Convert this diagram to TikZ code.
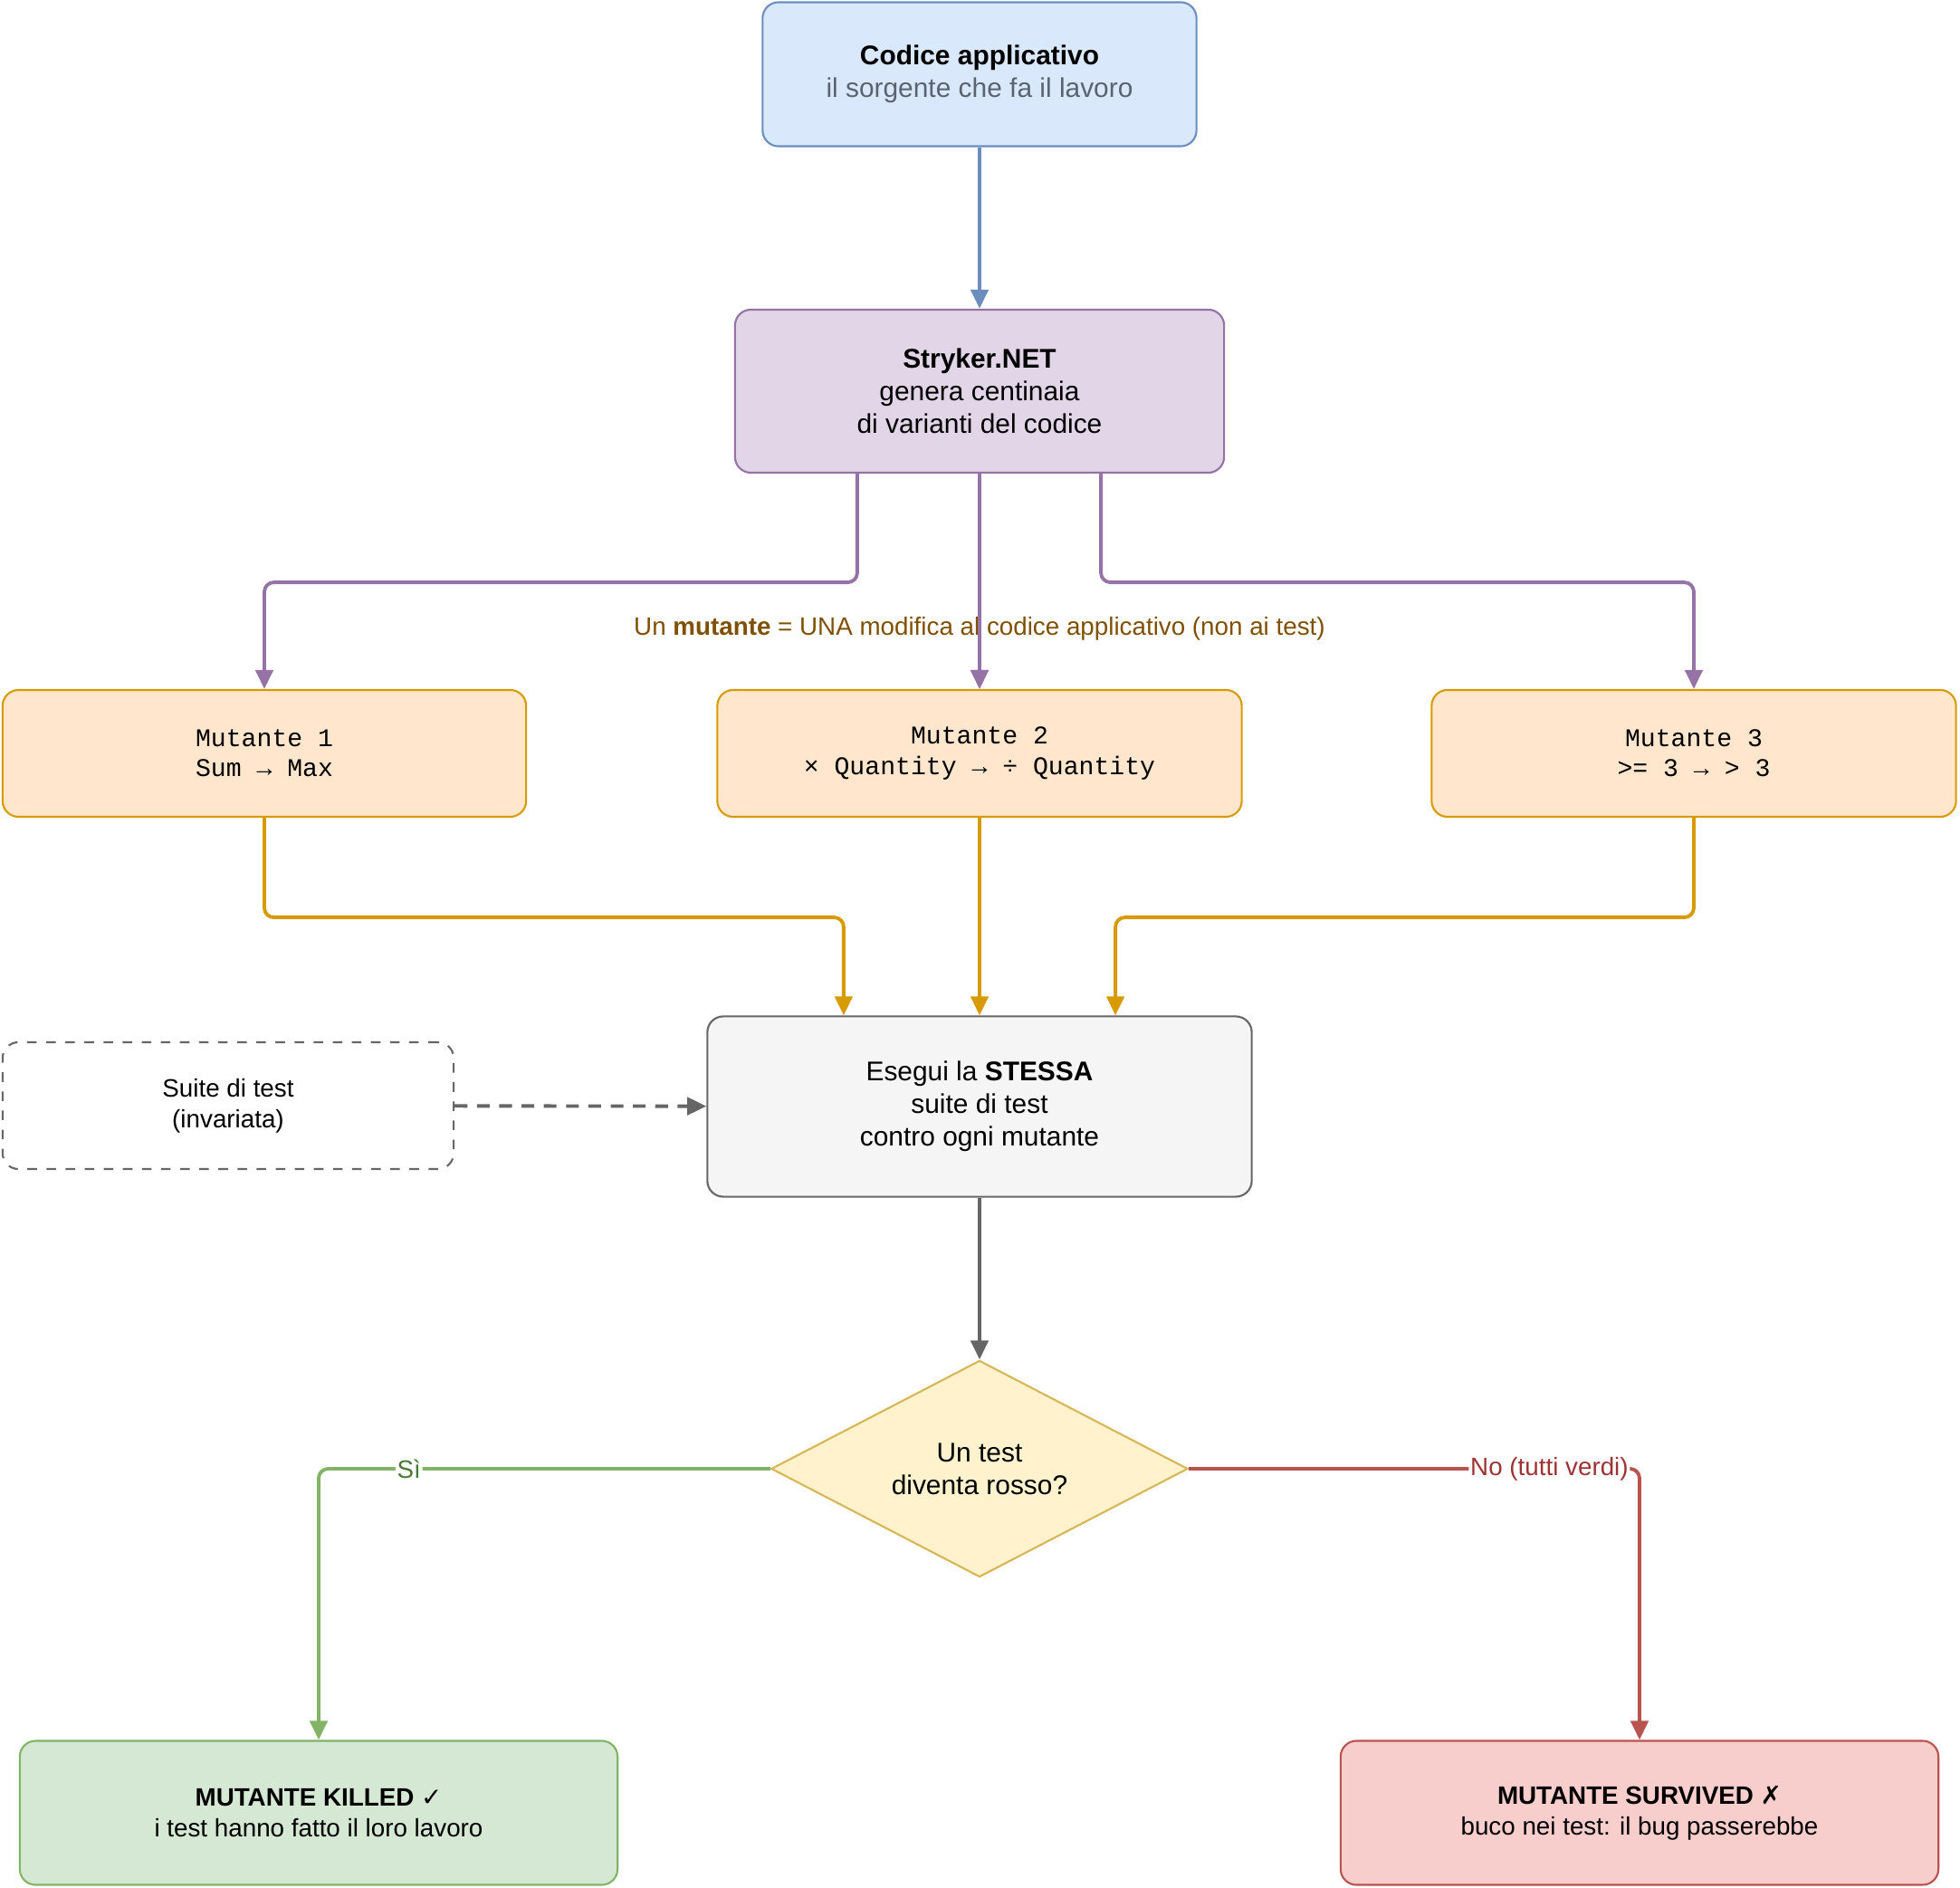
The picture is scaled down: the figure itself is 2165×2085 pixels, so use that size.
\documentclass[tikz,border=0pt]{standalone}
\usepackage{fontspec}
\setmainfont{Liberation Sans}
\setmonofont{Liberation Mono}
\newfontfamily\symfont{DejaVu Sans}
\usetikzlibrary{arrows.meta,shapes.geometric}
\definecolor{blueF}{HTML}{DAE8FC}\definecolor{blueD}{HTML}{6C8EBF}
\definecolor{purF}{HTML}{E1D5E7}\definecolor{purD}{HTML}{9673A6}
\definecolor{orF}{HTML}{FFE6CC}\definecolor{orD}{HTML}{D79B00}
\definecolor{grF}{HTML}{F5F5F5}\definecolor{grD}{HTML}{666666}
\definecolor{yeF}{HTML}{FFF2CC}\definecolor{yeD}{HTML}{D6B656}
\definecolor{gnF}{HTML}{D5E8D4}\definecolor{gnD}{HTML}{82B366}
\definecolor{rdF}{HTML}{F8CECC}\definecolor{rdD}{HTML}{B85450}
\definecolor{subG}{HTML}{5A6470}
\definecolor{brownT}{HTML}{7F5000}
\definecolor{greenT}{HTML}{4A7A38}
\definecolor{redT}{HTML}{9E3333}
\tikzset{
  box/.style={rectangle, rounded corners=5pt, line width=0.6pt, align=center, inner sep=2pt},
  bigtxt/.style={font=\fontsize{8.5}{10.2}\selectfont},
  smalltxt/.style={font=\fontsize{7.9}{9.6}\selectfont},
  monotxt/.style={font=\fontsize{8}{9.4}\selectfont\ttfamily},
  edge/.style={line width=1.1pt, rounded corners=3pt, -{Triangle[length=6pt,width=5.5pt]}},
  lbl/.style={fill=white, inner sep=0.5pt, font=\fontsize{7.9}{9.6}\selectfont}
}
\begin{document}
\begin{tikzpicture}[x=0.01cm,y=-0.01cm]
\useasboundingbox (0,0) rectangle (2165,2085);
\node[box, bigtxt, fill=blueF, draw=blueD, minimum width=4.79cm, minimum height=1.59cm] (code) at (1082,82)
  {\textbf{Codice applicativo}\\\textcolor{subG}{il sorgente che fa il lavoro}};
\node[box, bigtxt, fill=purF, draw=purD, minimum width=5.40cm, minimum height=1.80cm] (stry) at (1082,432)
  {\textbf{Stryker.NET}\\genera centinaia\\di varianti del codice};
\node[box, monotxt, fill=orF, draw=orD, minimum width=5.78cm, minimum height=1.40cm] (m1) at (292,832)
  {Mutante 1\\Sum → Max};
\node[box, monotxt, fill=orF, draw=orD, minimum width=5.79cm, minimum height=1.40cm] (m2) at (1082,832)
  {Mutante 2\\× Quantity → ÷ Quantity};
\node[box, monotxt, fill=orF, draw=orD, minimum width=5.79cm, minimum height=1.40cm] (m3) at (1871,832)
  {Mutante 3\\>= 3 → > 3};
\node[box, bigtxt, fill=grF, draw=grD, minimum width=6.01cm, minimum height=1.99cm] (exe) at (1082,1222)
  {Esegui la \textbf{STESSA}\\suite di test\\contro ogni mutante};
\node[box, smalltxt, draw=grD, dashed, minimum width=4.98cm, minimum height=1.40cm] (suite) at (252,1221)
  {Suite di test\\(invariata)};
\node[diamond, bigtxt, align=center, fill=yeF, draw=yeD, line width=0.6pt, inner sep=0pt, aspect=1.92,
  minimum width=4.60cm, minimum height=2.39cm] (dia) at (1082,1622)
  {Un test\\diventa rosso?};
\node[box, smalltxt, fill=gnF, draw=gnD, minimum width=6.60cm, minimum height=1.59cm] (kill) at (352,2002)
  {\textbf{MUTANTE KILLED {\symfont ✓}}\\i test hanno fatto il loro lavoro};
\node[box, smalltxt, fill=rdF, draw=rdD, minimum width=6.60cm, minimum height=1.59cm] (surv) at (1811,2002)
  {\textbf{MUTANTE SURVIVED {\symfont ✗}}\\buco nei test: il bug passerebbe};
% edges
\draw[edge, draw=blueD] (code) -- (stry);
\draw[edge, draw=purD] ([xshift=-1.35cm]stry.south) -- ++(0,120) -| (m1.north);
\draw[edge, draw=purD] (stry) -- (m2);
\draw[edge, draw=purD] ([xshift=1.34cm]stry.south) -- ++(0,120) -| (m3.north);
\node[font=\fontsize{7.9}{9.6}\selectfont, text=brownT] (note) at (1082,694)
  {Un \textbf{mutante} = UNA modifica al codice applicativo (non ai test)};
\draw[edge, draw=purD] (stry) -- (m2);
\draw[edge, draw=orD] (m1.south) -- ++(0,110) -| ([xshift=-1.5cm]exe.north);
\draw[edge, draw=orD] (m2) -- (exe);
\draw[edge, draw=orD] (m3.south) -- ++(0,110) -| ([xshift=1.5cm]exe.north);
\draw[edge, draw=grD, dashed, dash pattern=on 4pt off 3pt] (suite) -- (exe);
\draw[edge, draw=grD] (exe) -- (dia);
\draw[edge, draw=gnD] (dia.west) -| node[lbl, text=greenT, pos=0.4] {Sì} (kill.north);
\draw[edge, draw=rdD] (dia.east) -| node[lbl, text=redT, pos=0.4] {No (tutti verdi)} (surv.north);
\end{tikzpicture}
\end{document}
